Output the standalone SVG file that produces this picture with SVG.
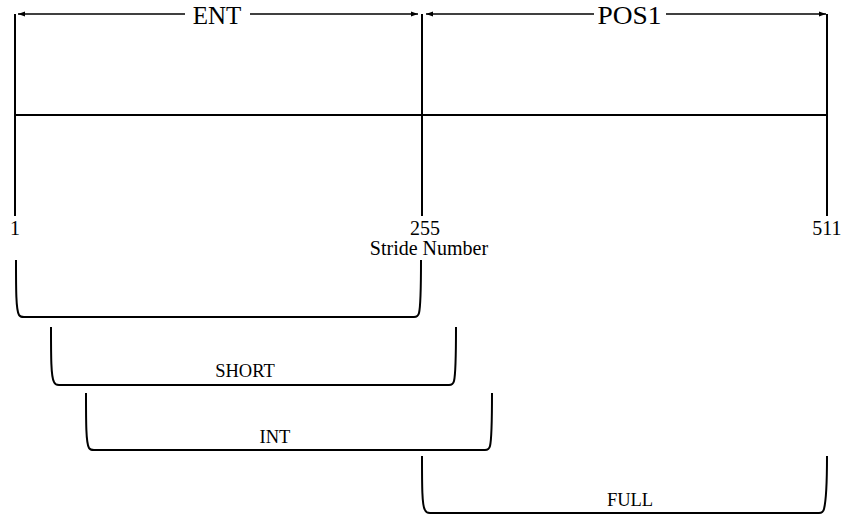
<svg xmlns="http://www.w3.org/2000/svg" width="841" height="514" viewBox="0 0 841 514">
<style>
.ln{stroke:#000;stroke-width:2;fill:none}
.ar{stroke:#000;stroke-width:1.5;fill:none}
.br{stroke:#000;stroke-width:2;fill:none;stroke-linejoin:round}
text{font-family:"Liberation Serif","Times New Roman",serif;fill:#000}
.big{font-size:25px;text-anchor:middle}
.num{font-size:20px;text-anchor:middle}
.lab{font-size:18.5px;text-anchor:middle}
</style>
<defs>
<marker id="ah" viewBox="0 0 10 10" refX="10" refY="5" markerWidth="7" markerHeight="7" markerUnits="userSpaceOnUse" orient="auto-start-reverse">
<path d="M0,1.5 L10,5 L0,8.5 Z" fill="#000"/>
</marker>
</defs>
<g id="axis">
<line class="ln" x1="15" y1="14" x2="15" y2="216"/>
<line class="ln" x1="422" y1="14" x2="422" y2="216"/>
<line class="ln" x1="827" y1="14" x2="827" y2="216"/>
<line class="ln" x1="15" y1="115" x2="827" y2="115"/>
<text class="num" x="15" y="235">1</text>
<text class="num" x="425" y="235">255</text>
<text class="num" x="429" y="255">Stride Number</text>
<text class="num" x="827" y="235">511</text>
</g>
<g id="connectors">
<line class="ar" x1="185" y1="14" x2="18" y2="14" marker-end="url(#ah)"/>
<line class="ar" x1="250" y1="14" x2="418" y2="14" marker-end="url(#ah)"/>
<line class="ar" x1="594" y1="14" x2="426" y2="14" marker-end="url(#ah)"/>
<line class="ar" x1="666" y1="14" x2="826" y2="14" marker-end="url(#ah)"/>
</g>
<g id="ent-label"><text class="big" x="217" y="23.5">ENT</text></g>
<g id="pos1-label"><text class="big" x="629.5" y="23.5" textLength="64" lengthAdjust="spacingAndGlyphs">POS1</text></g>
<g id="ent-bracket">
<path class="br" d="M16,260 C16,290 16,310 19,315 Q20,317 24,317 L414,317 Q418,317 419,313 C421,305 421,290 421,260"/>
</g>
<g id="short-bracket">
<path class="br" d="M51,327 C51,357 51,377 54,382 Q55,385 59,385 L449,385 Q453,385 454,381 C456,373 456,357 456,327"/>
<text class="lab" x="245" y="377">SHORT</text>
</g>
<g id="int-bracket">
<path class="br" d="M86,393 C86,423 86,443 89,448 Q90,450 94,450 L485,450 Q489,450 490,446 C492,438 492,423 492,393"/>
<text class="lab" x="275" y="443">INT</text>
</g>
<g id="full-bracket">
<path class="br" d="M422,456 C422,486 422,506 425,510 Q426,513 430,513 L819,513 Q823,513 824,509 C826,501 827,486 827,456"/>
<text class="lab" x="630" y="506">FULL</text>
</g>
</svg>
